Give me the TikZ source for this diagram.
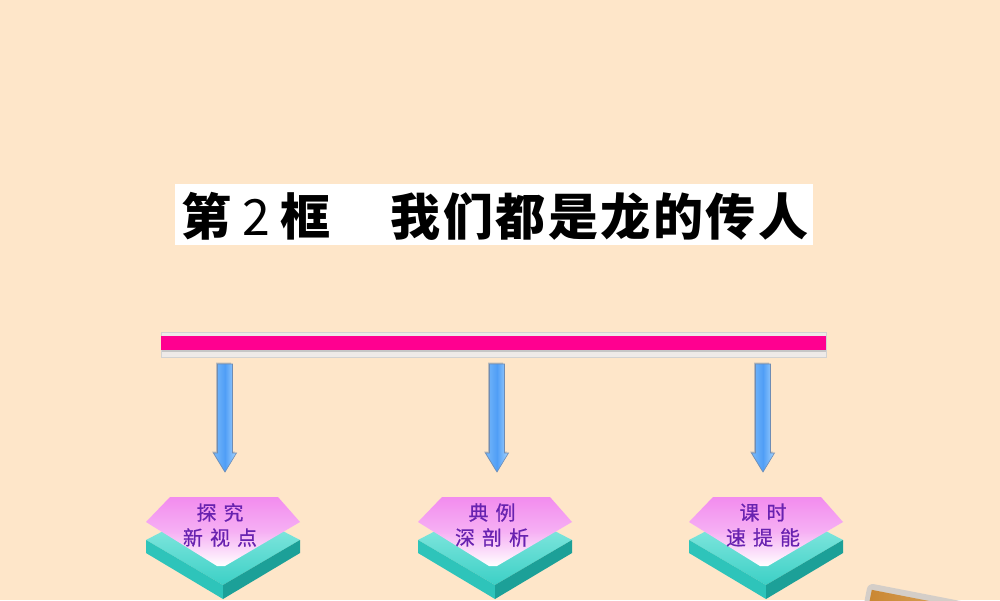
\documentclass[tikz,border=0pt]{standalone}
\usepackage{fontspec}
\newfontfamily\cjk{Noto Sans CJK SC}
\newfontfamily\cjkplate[FakeBold=0.6]{Noto Sans CJK SC}
\definecolor{bgc}{RGB}{254,230,201}
\definecolor{barpink}{RGB}{255,0,144}
\definecolor{barback}{RGB}{238,234,232}
\definecolor{arrowL}{RGB}{120,185,250}
\definecolor{arrowM}{RGB}{80,158,246}
\definecolor{arrowR}{RGB}{165,212,255}
\definecolor{arrowEdge}{RGB}{110,140,180}
\definecolor{pinkTop}{RGB}{242,140,238}
\definecolor{pinkMid}{RGB}{246,176,244}
\definecolor{tealTopA}{RGB}{160,240,232}
\definecolor{tealTopB}{RGB}{60,208,198}
\definecolor{tealLeft}{RGB}{46,196,186}
\definecolor{tealRight}{RGB}{28,160,152}
\definecolor{purpleTxt}{RGB}{104,34,176}
\definecolor{boardGray}{RGB}{212,206,200}
\definecolor{boardBrown}{RGB}{200,132,46}
\definecolor{boardLight}{RGB}{236,196,140}
\tikzset{
  titletext/.style={inner sep=0pt, anchor=west, font=\cjk\bfseries\fontsize{50}{56}\selectfont},
  platetext/.style={inner sep=0pt, align=center, text=purpleTxt, font=\cjkplate\fontsize{20}{25}\selectfont},
  arrowbody/.style={draw=arrowEdge, line width=0.6pt, left color=arrowL, right color=arrowR, middle color=arrowM},
}
\newcommand\blueArrow[2]{%
  \fill[gray!55, shift={(-1.5,-1.5)}] (#1-7.5,364) -- (#1+7.5,364) -- (#1+7.5,453) -- (#1+11.5,453) -- (#1,472) -- (#1-11.5,453) -- (#1-7.5,453) -- cycle;
  \shade[arrowbody] (#1-7.5,364) -- (#1+7.5,364) -- (#1+7.5,453) -- (#1+11.5,453) -- (#1,472) -- (#1-11.5,453) -- (#1-7.5,453) -- cycle;
  \coordinate (#2) at (#1,472);
}
\newcommand\platform[4]{%
  \begin{scope}[shift={(#1,0)}]
    \shade[top color=tealTopA, bottom color=tealTopB] (-77,540) -- (0,500) -- (77,540) -- (0,585) -- cycle;
    \fill[tealLeft] (-77,540) -- (0,585) -- (0,599) -- (-77,553) -- cycle;
    \fill[tealRight] (0,585) -- (77,540) -- (77,553) -- (0,599) -- cycle;
    \shade[top color=pinkTop, bottom color=white, middle color=pinkMid] (-77,522) -- (-53,497) -- (55,497) -- (77,522) -- (2,566) -- (-6,566) -- cycle;
    \node[platetext] (#2) at (-3,525) {#3\\#4};
  \end{scope}
}
\begin{document}
\begin{tikzpicture}[x=1pt, y=-1pt]
\fill[bgc] (0,0) rectangle (1000,600);
\useasboundingbox (0,0) rectangle (1000,600);
% title
\fill[white] (175,184) rectangle (813,245);
\node[titletext] (title) at (181,216) {第\hspace{11pt}{\mdseries 2}\hspace{11pt}框\hspace{60pt}我\hspace{2.5pt}们\hspace{2.5pt}都\hspace{2.5pt}是\hspace{2.5pt}龙\hspace{2.5pt}的\hspace{2.5pt}传\hspace{2.5pt}人};
% bar
\fill[barback] (161,332) rectangle (826,357);
\draw[gray!35, line width=0.6pt] (161,332) rectangle (826,357);
\fill[gray!45] (162,349) rectangle (826,352);
\fill[barpink] (161,336) rectangle (826,350);
% arrows
\blueArrow{225}{a1}
\blueArrow{497}{a2}
\blueArrow{763}{a3}
% platforms
\platform{223}{p1}{探\hspace{7pt}究}{新\hspace{7pt}视\hspace{7pt}点}
\platform{495}{p2}{典\hspace{7pt}例}{深\hspace{7pt}剖\hspace{7pt}析}
\platform{766}{p3}{课\hspace{7pt}时}{速\hspace{7pt}提\hspace{7pt}能}
% corner board
\begin{scope}[shift={(868,583)}, rotate=-11]
  \fill[boardGray, rounded corners=6pt] (0,0) rectangle (200,80);
  \shade[left color=boardBrown, right color=boardLight] (5,6) rectangle (195,75);
\end{scope}
\end{tikzpicture}
\end{document}
